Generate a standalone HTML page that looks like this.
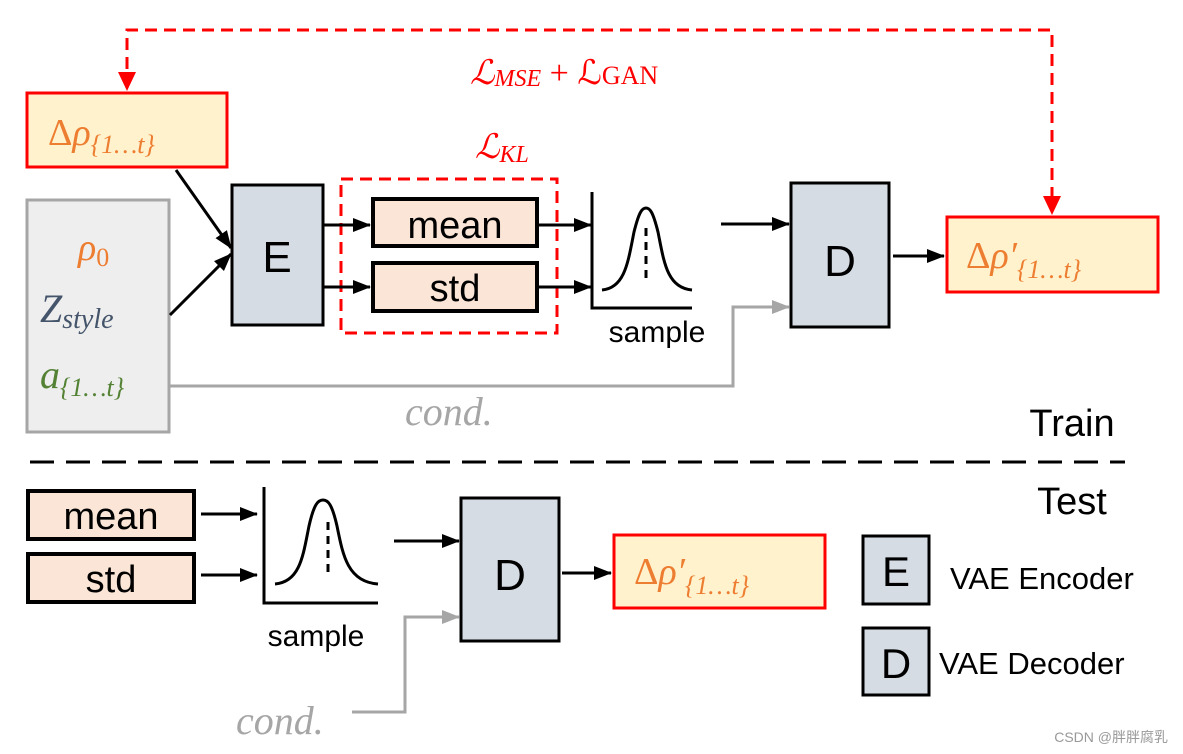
<!DOCTYPE html>
<html><head><meta charset="utf-8"><style>
html,body{margin:0;padding:0;background:#fff;}
svg{display:block;}
.s{font-family:"Liberation Sans","DejaVu Sans",sans-serif;}
.m{font-family:"Liberation Serif","DejaVu Serif",serif;font-style:italic;}
</style></head><body>
<svg width="1183" height="754" viewBox="0 0 1183 754" xmlns="http://www.w3.org/2000/svg">
<defs>
<marker id="ab" markerWidth="10" markerHeight="10" refX="9" refY="5" orient="auto" markerUnits="userSpaceOnUse" viewBox="0 0 10 10"><path d="M0,0 L10,5 L0,10 z" fill="#000"/></marker>
<marker id="abk" markerWidth="18" markerHeight="18" refX="17" refY="9" orient="auto" markerUnits="userSpaceOnUse"><path d="M0,2 L18,9 L0,16 z" fill="#000"/></marker>
<marker id="agr" markerWidth="18" markerHeight="18" refX="17" refY="9" orient="auto" markerUnits="userSpaceOnUse"><path d="M0,2 L18,9 L0,16 z" fill="#a6a6a6"/></marker>
<marker id="ard" markerWidth="18" markerHeight="18" refX="9" refY="17" orient="auto-start-reverse" markerUnits="userSpaceOnUse"><path d="M2,0 L9,18 L16,0 z" fill="#f00"/></marker>
</defs>

<!-- top dashed feedback -->
<path d="M127,88 V30 H1052 V212" fill="none" stroke="#f00" stroke-width="3" stroke-dasharray="12,7"/>
<path d="M118,72 L127,91 L136,72 z" fill="#f00"/>
<path d="M1043,196 L1052,215 L1061,196 z" fill="#f00"/>
<text x="470" y="84" class="m" font-size="34" fill="#f00">ℒ<tspan font-size="24" dy="2">MSE</tspan><tspan dy="-2" font-style="normal"> + ℒ</tspan><tspan font-style="normal" font-size="26">GAN</tspan></text>
<text x="475" y="158" class="m" font-size="34" fill="#f00">ℒ<tspan font-size="24" dy="4">KL</tspan></text>

<!-- Δρ input -->
<rect x="27" y="93" width="200" height="74" fill="#fff2cc" stroke="#f00" stroke-width="3"/>
<text x="48" y="145" class="m" font-size="38" fill="#ed7d31"><tspan font-style="normal">Δ</tspan>ρ<tspan font-size="26" dy="8">{1…t}</tspan></text>

<!-- gray input box -->
<rect x="27" y="200" width="142" height="232" fill="#eeeeee" stroke="#a6a6a6" stroke-width="3"/>
<text x="78" y="260" class="m" font-size="38" fill="#ed7d31">ρ<tspan font-size="26" dy="6" font-style="normal">0</tspan></text>
<text x="40" y="322" class="m" font-size="40" fill="#44546a">Z<tspan font-size="28" dy="6">style</tspan></text>
<text x="40" y="388" class="m" font-size="40" fill="#548235">a<tspan font-size="26" dy="8">{1…t}</tspan></text>

<!-- arrows into E -->
<line x1="176" y1="170" x2="231" y2="248" stroke="#000" stroke-width="3" marker-end="url(#abk)"/>
<line x1="170" y1="315" x2="231" y2="254" stroke="#000" stroke-width="3" marker-end="url(#abk)"/>

<!-- E -->
<rect x="232" y="185" width="91" height="140" fill="#d6dce4" stroke="#000" stroke-width="3"/>
<text x="277" y="272" class="s" font-size="44" text-anchor="middle">E</text>

<!-- KL box -->
<rect x="341" y="179" width="216" height="154" fill="none" stroke="#f00" stroke-width="3" stroke-dasharray="12,7"/>
<line x1="323" y1="225" x2="370" y2="225" stroke="#000" stroke-width="3" marker-end="url(#abk)"/>
<line x1="323" y1="287" x2="370" y2="287" stroke="#000" stroke-width="3" marker-end="url(#abk)"/>
<rect x="373" y="199" width="164" height="47" fill="#fbe5d6" stroke="#000" stroke-width="4"/>
<text x="455" y="238" class="s" font-size="38" text-anchor="middle">mean</text>
<rect x="373" y="263" width="164" height="48" fill="#fbe5d6" stroke="#000" stroke-width="4"/>
<text x="455" y="301" class="s" font-size="38" text-anchor="middle">std</text>
<line x1="537" y1="225" x2="591" y2="225" stroke="#000" stroke-width="3" marker-end="url(#abk)"/>
<line x1="537" y1="287" x2="591" y2="287" stroke="#000" stroke-width="3" marker-end="url(#abk)"/>

<!-- gaussian top -->
<path d="M592,192 V308 H692" fill="none" stroke="#000" stroke-width="3"/>
<path d="M602,290 C625,288 628,262 634,232 C639,212 642,208 646,208 C650,208 653,212 658,232 C664,262 667,288 692,290" fill="none" stroke="#000" stroke-width="3"/>
<line x1="646" y1="228" x2="646" y2="284" stroke="#000" stroke-width="3" stroke-dasharray="8,6"/>
<text x="657" y="342" class="s" font-size="30" text-anchor="middle">sample</text>

<line x1="721" y1="224" x2="789" y2="224" stroke="#000" stroke-width="3" marker-end="url(#abk)"/>
<!-- D top -->
<rect x="791" y="183" width="98" height="144" fill="#d6dce4" stroke="#000" stroke-width="3"/>
<text x="840" y="276" class="s" font-size="44" text-anchor="middle">D</text>
<line x1="893" y1="256" x2="944" y2="256" stroke="#000" stroke-width="3" marker-end="url(#abk)"/>
<rect x="947" y="217" width="211" height="75" fill="#fff2cc" stroke="#f00" stroke-width="3"/>
<text x="966" y="268" class="m" font-size="38" fill="#ed7d31"><tspan font-style="normal">Δ</tspan>ρ′<tspan font-size="26" dy="10">{1…t}</tspan></text>

<!-- cond top -->
<path d="M169,386 H733 V307 H789" fill="none" stroke="#a6a6a6" stroke-width="3" marker-end="url(#agr)"/>
<text x="405" y="425" class="m" font-size="40" fill="#a6a6a6">cond.</text>

<text x="1072" y="436" class="s" font-size="38" text-anchor="middle">Train</text>
<line x1="30" y1="462" x2="1125" y2="462" stroke="#000" stroke-width="3" stroke-dasharray="24,12"/>
<text x="1072" y="514" class="s" font-size="38" text-anchor="middle">Test</text>

<!-- bottom -->
<rect x="28" y="491" width="166" height="48" fill="#fbe5d6" stroke="#000" stroke-width="4"/>
<text x="111" y="529" class="s" font-size="38" text-anchor="middle">mean</text>
<rect x="28" y="554" width="166" height="48" fill="#fbe5d6" stroke="#000" stroke-width="4"/>
<text x="111" y="592" class="s" font-size="38" text-anchor="middle">std</text>
<line x1="201" y1="514" x2="257" y2="514" stroke="#000" stroke-width="3" marker-end="url(#abk)"/>
<line x1="201" y1="575" x2="257" y2="575" stroke="#000" stroke-width="3" marker-end="url(#abk)"/>
<path d="M264,487 V603 H378" fill="none" stroke="#000" stroke-width="3"/>
<path d="M275,584 C300,582 303,556 309,526 C314,504 318,500 323,500 C328,500 332,504 337,526 C343,556 348,582 378,584" fill="none" stroke="#000" stroke-width="3"/>
<line x1="328" y1="522" x2="328" y2="578" stroke="#000" stroke-width="3" stroke-dasharray="8,6"/>
<text x="316" y="646" class="s" font-size="30" text-anchor="middle">sample</text>
<line x1="394" y1="541" x2="459" y2="541" stroke="#000" stroke-width="3" marker-end="url(#abk)"/>
<rect x="461" y="498" width="98" height="143" fill="#d6dce4" stroke="#000" stroke-width="3"/>
<text x="510" y="590" class="s" font-size="44" text-anchor="middle">D</text>
<line x1="562" y1="573" x2="611" y2="573" stroke="#000" stroke-width="3" marker-end="url(#abk)"/>
<rect x="614" y="535" width="211" height="73" fill="#fff2cc" stroke="#f00" stroke-width="3"/>
<text x="634" y="584" class="m" font-size="38" fill="#ed7d31"><tspan font-style="normal">Δ</tspan>ρ′<tspan font-size="26" dy="10">{1…t}</tspan></text>
<path d="M352,712 H405 V617 H459" fill="none" stroke="#a6a6a6" stroke-width="3" marker-end="url(#agr)"/>
<text x="236" y="734" class="m" font-size="40" fill="#a6a6a6">cond.</text>

<!-- legend -->
<rect x="863" y="536" width="66" height="68" fill="#d6dce4" stroke="#000" stroke-width="3"/>
<text x="896" y="586" class="s" font-size="42" text-anchor="middle">E</text>
<text x="950" y="589" class="s" font-size="31">VAE Encoder</text>
<rect x="863" y="628" width="66" height="67" fill="#d6dce4" stroke="#000" stroke-width="3"/>
<text x="896" y="678" class="s" font-size="42" text-anchor="middle">D</text>
<text x="939" y="674" class="s" font-size="31">VAE Decoder</text>

<text x="1168" y="742" font-family="'Liberation Sans','Noto Sans CJK SC',sans-serif" font-size="14" fill="#999" text-anchor="end">CSDN @胖胖腐乳</text>
</svg>
</body></html>
